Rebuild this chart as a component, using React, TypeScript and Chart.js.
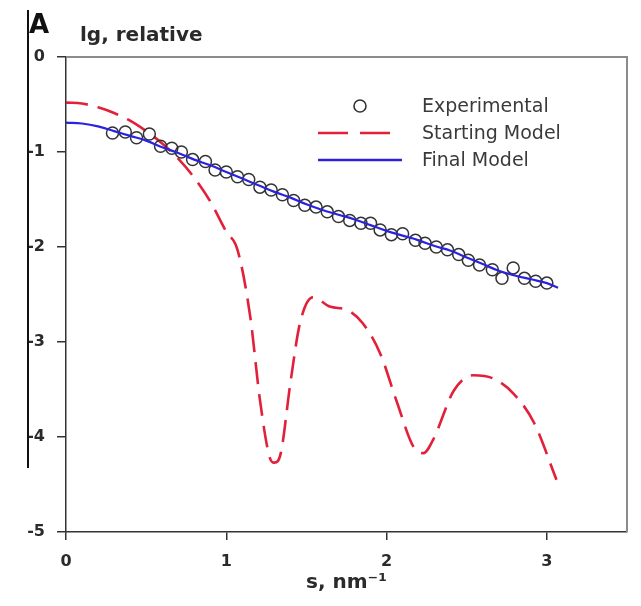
import React, { useEffect, useRef } from "react";
import { Chart, registerables } from "chart.js";

Chart.register(...registerables);

// Experimental data (s, lg I)
const expS = [0.29, 0.37, 0.44, 0.52, 0.59, 0.66, 0.72, 0.79, 0.87, 0.93, 1.0, 1.07, 1.14, 1.21, 1.28, 1.35, 1.42, 1.49, 1.56, 1.63, 1.7, 1.77, 1.84, 1.9, 1.96, 2.03, 2.1, 2.18, 2.24, 2.31, 2.38, 2.45, 2.51, 2.58, 2.66, 2.72, 2.79, 2.86, 2.93, 3.0];
const expI = [-0.8, -0.79, -0.85, -0.81, -0.94, -0.96, -1.0, -1.08, -1.1, -1.19, -1.21, -1.26, -1.29, -1.37, -1.4, -1.45, -1.51, -1.56, -1.58, -1.63, -1.68, -1.72, -1.75, -1.75, -1.82, -1.87, -1.86, -1.93, -1.96, -2.0, -2.03, -2.08, -2.14, -2.19, -2.24, -2.33, -2.22, -2.33, -2.36, -2.38];

// Starting model
const startS = [0, 0.1, 0.2, 0.3, 0.4, 0.5, 0.6, 0.7, 0.8, 0.9, 1.0, 1.07, 1.15, 1.21, 1.27, 1.3, 1.34, 1.4, 1.46, 1.54, 1.65, 1.75, 1.85, 1.96, 2.06, 2.17, 2.23, 2.29, 2.42, 2.54, 2.66, 2.79, 2.92, 3.06];
const startI = [-0.48, -0.49, -0.53, -0.59, -0.67, -0.78, -0.91, -1.07, -1.27, -1.52, -1.84, -2.03, -2.74, -3.61, -4.21, -4.27, -4.17, -3.43, -2.8, -2.53, -2.63, -2.66, -2.8, -3.12, -3.61, -4.11, -4.17, -4.03, -3.51, -3.35, -3.38, -3.54, -3.85, -4.45];

// Final model
const finalS = [0, 0.1, 0.2, 0.3, 0.4, 0.5, 0.6, 0.7, 0.8, 0.9, 1.0, 1.1, 1.2, 1.3, 1.4, 1.5, 1.6, 1.7, 1.8, 1.9, 2.0, 2.1, 2.2, 2.3, 2.4, 2.5, 2.6, 2.7, 2.8, 2.9, 3.0, 3.07];
const finalI = [-0.69, -0.7, -0.73, -0.78, -0.83, -0.88, -0.95, -1.01, -1.08, -1.14, -1.21, -1.28, -1.35, -1.42, -1.48, -1.55, -1.61, -1.66, -1.71, -1.77, -1.83, -1.88, -1.93, -1.99, -2.04, -2.11, -2.18, -2.25, -2.3, -2.34, -2.38, -2.43];

const xTicks = [0, 1, 2, 3];
const legendLabels = ["Experimental", "Starting Model", "Final Model"];

const RED = "rgb(226,32,58)";
const BLUE = "rgb(43,34,224)";
const FONT = "'DejaVu Sans', 'Liberation Sans', Arial, sans-serif";

const decorPlugin = {
  id: "decor",
  afterDraw(chart: any) {
    const ctx = chart.ctx;
    const a = chart.chartArea;
    ctx.save();
    // top/right frame
    ctx.strokeStyle = "#8c8c8c";
    ctx.lineWidth = 2;
    ctx.beginPath();
    ctx.moveTo(a.left, a.top);
    ctx.lineTo(a.right, a.top);
    ctx.lineTo(a.right, a.bottom);
    ctx.stroke();

    // side bar at the left
    ctx.strokeStyle = "#111";
    ctx.lineWidth = 2;
    ctx.beginPath();
    ctx.moveTo(28, 10);
    ctx.lineTo(28, 468);
    ctx.stroke();

    // panel letter and y title
    ctx.fillStyle = "#111";
    ctx.textBaseline = "alphabetic";
    ctx.textAlign = "left";
    ctx.font = `bold 26px ${FONT}`;
    ctx.fillText("A", 29, 33);
    ctx.fillStyle = "#2a2a2a";
    ctx.font = `bold 20px ${FONT}`;
    ctx.fillText("lg, relative", 80, 41);

    // legend
    ctx.font = `19px ${FONT}`;
    ctx.fillStyle = "#3a3a3a";
    ctx.textBaseline = "middle";
    const tx = 422;
    const ys = [106, 133, 160];
    ctx.strokeStyle = "#333";
    ctx.lineWidth = 1.6;
    ctx.beginPath();
    ctx.arc(360, ys[0], 6, 0, Math.PI * 2);
    ctx.stroke();
    ctx.strokeStyle = RED;
    ctx.lineWidth = 2.5;
    ctx.setLineDash([30, 12]);
    ctx.beginPath();
    ctx.moveTo(318, ys[1]);
    ctx.lineTo(390, ys[1]);
    ctx.stroke();
    ctx.setLineDash([]);
    ctx.strokeStyle = BLUE;
    ctx.lineWidth = 2.5;
    ctx.beginPath();
    ctx.moveTo(318, ys[2]);
    ctx.lineTo(402, ys[2]);
    ctx.stroke();
    legendLabels.forEach((t, i) => ctx.fillText(t, tx, ys[i] + 1));
    ctx.restore();
  },
};

export default function App() {
  const ref = useRef<HTMLCanvasElement>(null);
  useEffect(() => {
    if (!ref.current) return;
    const chart = new Chart(ref.current, {
      type: "scatter",
      data: {
        datasets: [
          {
            label: "Final Model",
            type: "line",
            data: finalS.map((s, i) => ({ x: s, y: finalI[i] })),
            borderColor: BLUE,
            borderWidth: 2.2,
            pointRadius: 0,
            tension: 0.4,
            fill: false,
            order: 0,
          } as any,
          {
            label: "Experimental",
            data: expS.map((s, i) => ({ x: s, y: expI[i] })),
            pointStyle: "circle",
            pointRadius: 6,
            borderColor: "#333",
            borderWidth: 1.5,
            backgroundColor: "rgba(0,0,0,0)",
            order: 1,
          },
          {
            label: "Starting Model",
            type: "line",
            data: startS.map((s, i) => ({ x: s, y: startI[i] })),
            borderColor: RED,
            borderWidth: 2.6,
            borderDash: [22, 10],
            pointRadius: 0,
            cubicInterpolationMode: "monotone",
            fill: false,
            order: 2,
          } as any,
        ],
      },
      options: {
        responsive: false,
        animation: false,
        layout: { padding: { top: 57, right: 14, left: 0, bottom: 0 } },
        plugins: { legend: { display: false }, tooltip: { enabled: false }, title: { display: false } },
        scales: {
          x: {
            type: "linear",
            min: 0,
            max: 3.5,
            afterBuildTicks: (s: any) => {
              s.ticks = xTicks.map((v) => ({ value: v }));
            },
            afterFit: (s: any) => {
              s.height = 74;
            },
            grid: { drawOnChartArea: false, drawTicks: true, tickLength: 8, color: "#333", lineWidth: 1.5 },
            border: { display: true, color: "#333", width: 1.5 },
            ticks: { color: "#2a2a2a", font: { family: FONT, size: 16, weight: "bold" }, padding: 12, maxRotation: 0 },
            title: {
              display: true,
              text: "s, nm\u207B\u00B9",
              color: "#2a2a2a",
              font: { family: FONT, size: 20, weight: "bold" },
              padding: { top: 0, bottom: 11 },
            },
          },
          y: {
            type: "linear",
            min: -5,
            max: 0,
            ticks: { stepSize: 1, color: "#2a2a2a", font: { family: FONT, size: 16, weight: "bold" }, padding: 12 },
            afterFit: (s: any) => {
              s.width = 66;
            },
            grid: { drawOnChartArea: false, drawTicks: true, tickLength: 9, color: "#333", lineWidth: 1.5 },
            border: { display: true, color: "#333", width: 1.5 },
          },
        },
      },
      plugins: [decorPlugin],
    });
    return () => chart.destroy();
  }, []);
  return (
    <div style={{ position: "absolute", left: 0, top: 0, width: 641, height: 606, background: "#fff" }}>
      <canvas ref={ref} width={641} height={606} style={{ width: 641, height: 606 }} />
    </div>
  );
}
